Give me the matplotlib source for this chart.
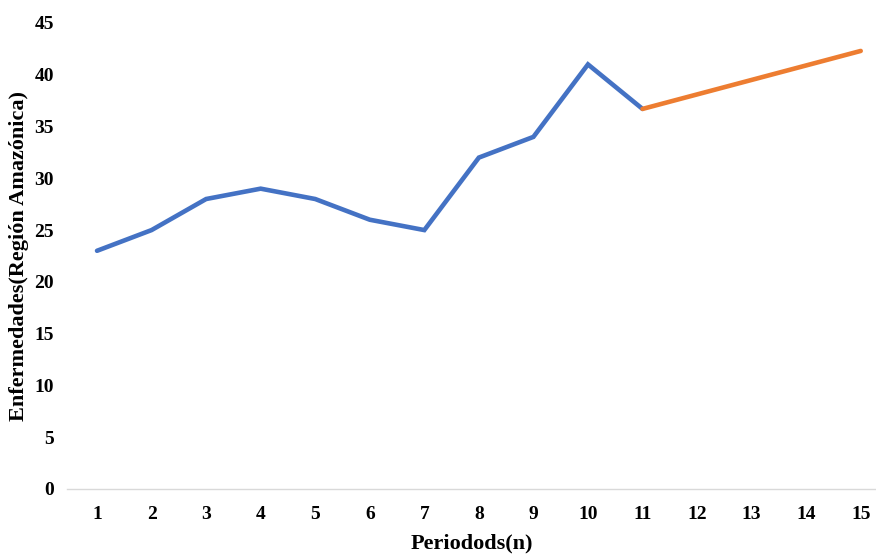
import matplotlib.pyplot as plt

periods_obs = [1, 2, 3, 4, 5, 6, 7, 8, 9, 10, 11]
values_obs = [23, 25, 28, 29, 28, 26, 25, 32, 34, 41, 36.7]
periods_fc = [11, 12, 13, 14, 15]
values_fc = [36.7, 38.1, 39.5, 40.9, 42.3]
yticks = [0, 5, 10, 15, 20, 25, 30, 35, 40, 45]

plt.rcParams['font.family'] = ['Liberation Serif', 'DejaVu Serif']

fig = plt.figure(figsize=(8.76, 5.55), dpi=100)
ax = fig.add_axes([0.0765, 0.119, 0.9235, 0.8396])

ax.plot(periods_obs, values_obs, color='#4472C4', linewidth=3.3, solid_capstyle='round', solid_joinstyle='miter')
ax.plot(periods_fc, values_fc, color='#ED7D31', linewidth=3.3, solid_capstyle='round', solid_joinstyle='miter')

ax.set_xlim(0.45, 15.28)
ax.set_ylim(0, 45)
ax.set_yticks(yticks)
ax.set_xticks(list(range(1, 16)))

for s in ['top', 'right', 'left']:
    ax.spines[s].set_visible(False)
ax.spines['bottom'].set_color('#D9D9D9')
ax.spines['bottom'].set_linewidth(1)
ax.tick_params(axis='both', length=0, labelsize=14)
ax.tick_params(axis='x', pad=12.5)
ax.tick_params(axis='y', pad=9.5)
for lab in ax.get_xticklabels() + ax.get_yticklabels():
    lab.set_fontweight('bold')

ax.set_xlabel('Periodods(n)', fontsize=16, fontweight='bold', labelpad=7)
ax.set_ylabel('Enfermedades(Región Amazónica)', fontsize=16, fontweight='bold', labelpad=4)

fig.savefig('out.png', dpi=100)
